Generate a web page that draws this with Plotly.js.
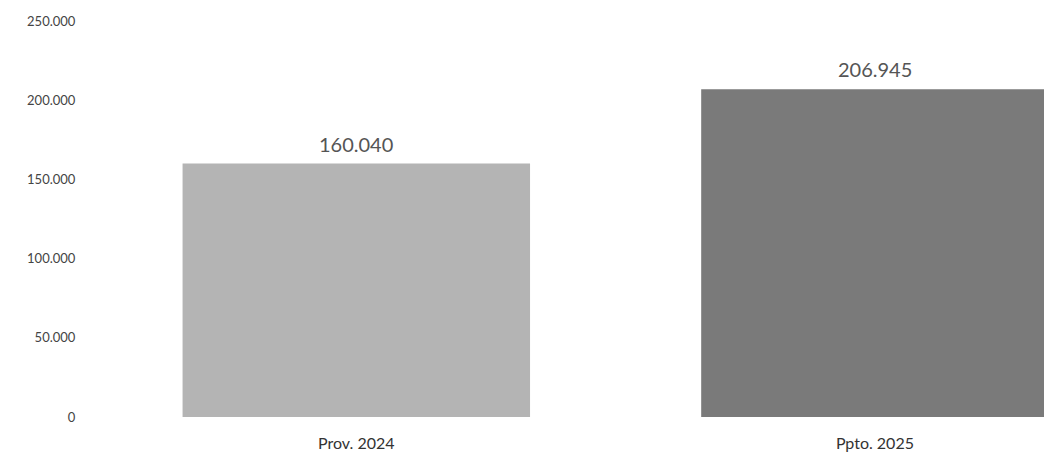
<!DOCTYPE html>
<html><head><meta charset="utf-8">
<script src="https://cdn.plot.ly/plotly-3.0.1.min.js"></script>
<style>html,body{margin:0;padding:0;background:#fff}#c{width:1044px;height:456px}</style>
</head><body><div id="c"></div>
<script>
const categories = ["Prov. 2024", "Ppto. 2025"];
const values = [160040, 206945];
const valueLabels = ["160.040", "206.945"];
const barColors = ["#b4b4b4", "#7a7a7a"];
const yTicks = [0, 50000, 100000, 150000, 200000, 250000];

const trace = {
  type: "bar", x: categories, y: values,
  marker: {color: barColors, line: {width: 0}},
  width: 0.67, hoverinfo: "none"
};
const annotations = categories.map((c, i) => ({
  x: c, y: values[i], text: valueLabels[i], showarrow: false,
  yanchor: "bottom", yshift: 6,
  font: {family: "Lato, 'Open Sans', sans-serif", size: 20, color: "#555"}
}));
const layout = {
  width: 1044, height: 456, paper_bgcolor: "#fff", plot_bgcolor: "#fff",
  margin: {l: 97, r: 0, t: 21, b: 39},
  separators: ",.", showlegend: false,
  font: {family: "Lato, 'Open Sans', sans-serif", color: "#444"},
  xaxis: {range: [-0.5, 1.326], showgrid: false, zeroline: false, showline: false,
    ticks: "outside", ticklen: 12, tickcolor: "rgba(0,0,0,0)",
    tickfont: {size: 16, color: "#333"}},
  yaxis: {range: [0, 250000], tickvals: yTicks, tickformat: ",d", showgrid: false,
    zeroline: false, showline: false, ticks: "outside", ticklen: 18,
    tickcolor: "rgba(0,0,0,0)", tickfont: {size: 13, color: "#444"}},
  annotations: annotations
};
Plotly.newPlot("c", [trace], layout, {displayModeBar: false, staticPlot: true});
</script></body></html>
